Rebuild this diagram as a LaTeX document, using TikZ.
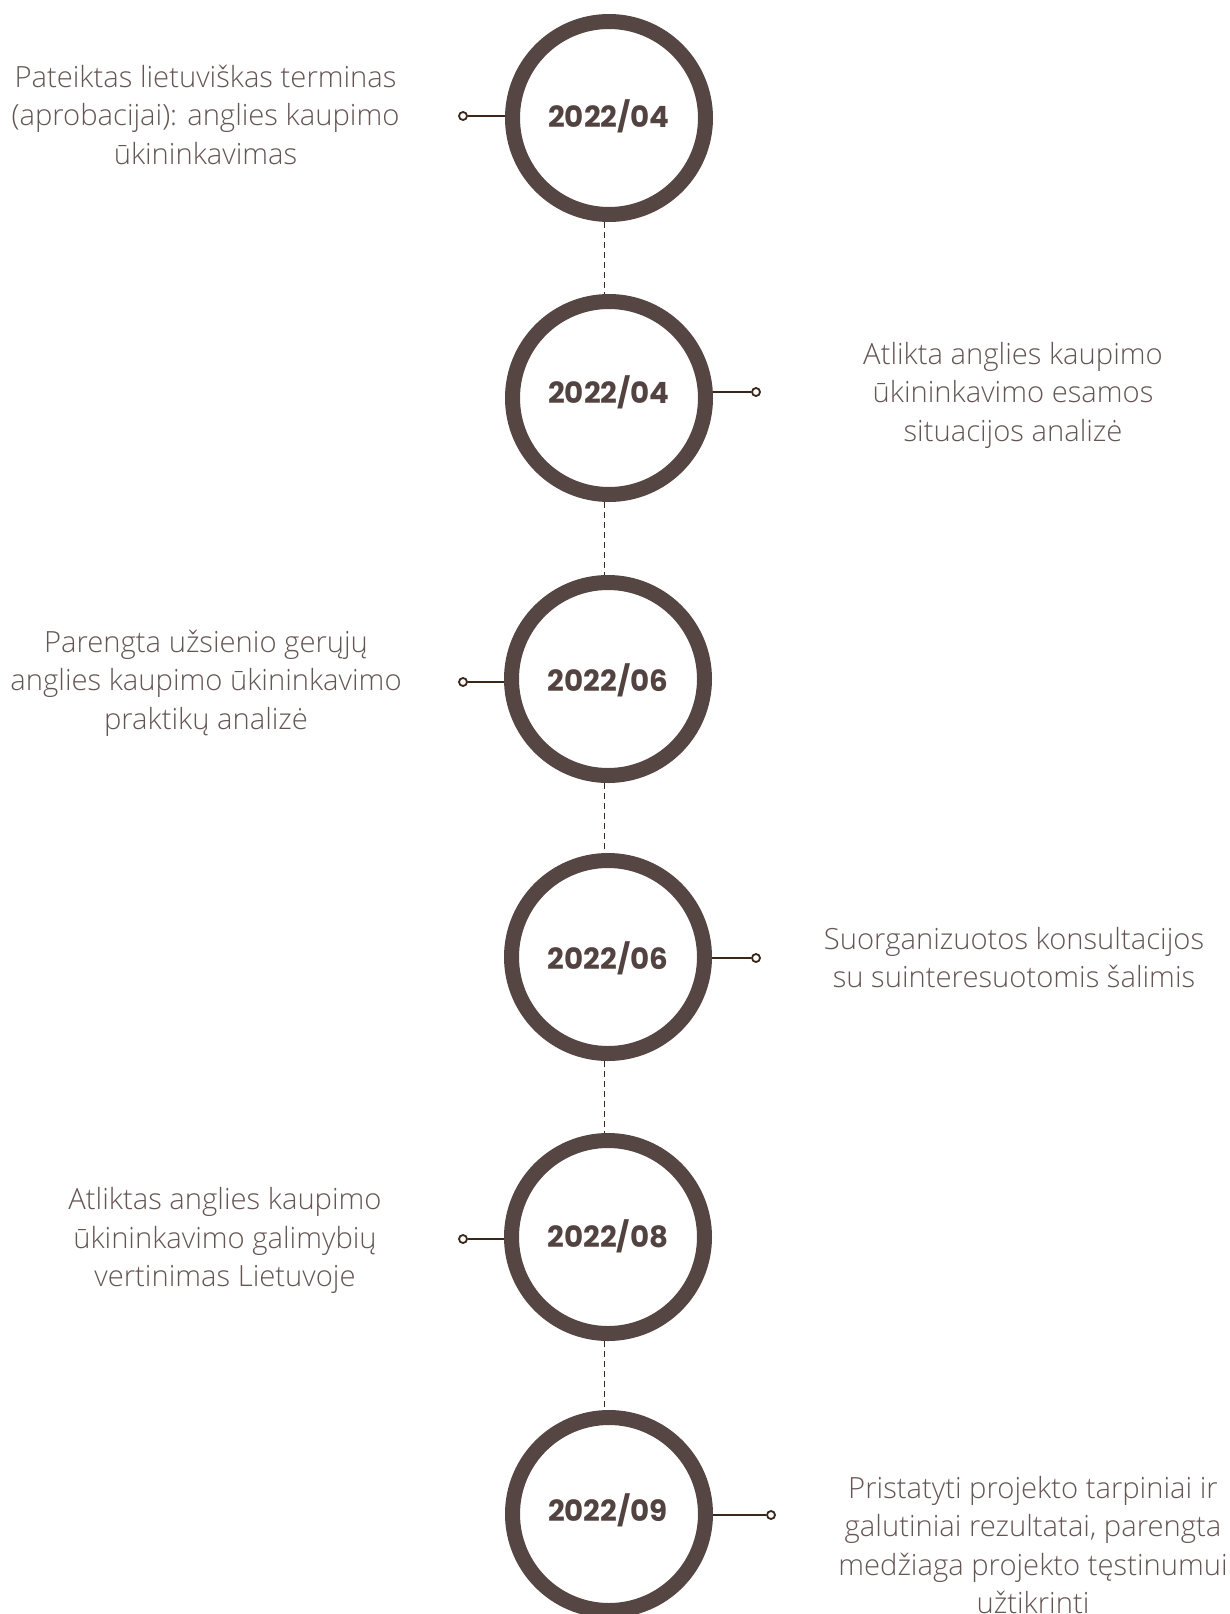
\documentclass[tikz,border=0pt]{standalone}
\usepackage{fontspec}
\setmainfont{Open Sans Light}
\newfontfamily\datefont{Poppins}
\usetikzlibrary{backgrounds}
\definecolor{ringc}{RGB}{85,69,67}
\definecolor{connc}{RGB}{58,38,26}
\definecolor{textc}{RGB}{100,86,84}
\definecolor{datec}{RGB}{82,67,65}
\tikzset{
  ring/.style={circle, draw=ringc, fill=white, line width=15pt, minimum size=193pt, inner sep=0pt},
  datelbl/.style={font=\datefont\bfseries\fontsize{29.3}{36}\selectfont, text=datec, inner sep=0pt},
  desc/.style={align=center, font=\fontsize{29.2}{38.5}\selectfont, text=textc, inner sep=0pt},
  enddot/.style={circle, draw=connc, line width=1.8pt, fill=white, minimum size=8pt, inner sep=0pt},
  conn/.style={draw=connc, line width=2pt},
  dashline/.style={draw=connc, line width=1.6pt, dash pattern=on 6pt off 4pt}
}
\begin{document}
\begin{tikzpicture}[x=1pt,y=-1pt]
\useasboundingbox (0,0) rectangle (1230,1614);
% rings
\node[ring] (c1) at (609,118) {};
\node[ring] (c2) at (609,398) {};
\node[ring] (c3) at (608,679) {};
\node[ring] (c4) at (608,957) {};
\node[ring] (c5) at (608,1237) {};
\node[ring] (c6) at (609,1514) {};
% dates
\node[datelbl] (d1) at (609,116) {2022/04};
\node[datelbl] (d2) at (609,392) {2022/04};
\node[datelbl] (d3) at (608,680) {2022/06};
\node[datelbl] (d4) at (608,958) {2022/06};
\node[datelbl] (d5) at (608,1236) {2022/08};
\node[datelbl] (d6) at (608,1510) {2022/09};
% end dots
\node[enddot] (e1) at (463,116) {};
\node[enddot] (e2) at (756,392) {};
\node[enddot] (e3) at (463,682) {};
\node[enddot] (e4) at (756,958) {};
\node[enddot] (e5) at (463,1239) {};
\node[enddot] (e6) at (771,1515) {};
\begin{scope}[on background layer]
\draw[conn] (e1) -- (e1 -| c1.center);
\draw[conn] (e2) -- (e2 -| c2.center);
\draw[conn] (e3) -- (e3 -| c3.center);
\draw[conn] (e4) -- (e4 -| c4.center);
\draw[conn] (e5) -- (e5 -| c5.center);
\draw[conn] (e6) -- (e6 -| c6.center);
\draw[dashline] ([xshift=-4.5pt]c1.south) -- ([xshift=-4.5pt]c2.north);
\draw[dashline] ([xshift=-4.5pt]c2.south) -- ([xshift=-3.5pt]c3.north);
\draw[dashline] ([xshift=-3.5pt]c3.south) -- ([xshift=-3.5pt]c4.north);
\draw[dashline] ([xshift=-3.5pt]c4.south) -- ([xshift=-3.5pt]c5.north);
\draw[dashline] ([xshift=-3.5pt]c5.south) -- ([xshift=-4.5pt]c6.north);
\end{scope}
% descriptions
\node[desc] (t1) at (205.5,114.5) {Pateiktas lietuviškas terminas\\(aprobacijai): anglies kaupimo\\ūkininkavimas};
\node[desc] (t2) at (1013,395) {Atlikta anglies kaupimo\\ūkininkavimo esamos\\situacijos analizė};
\node[desc] (t3) at (206,683) {Parengta užsienio gerųjų\\anglies kaupimo ūkininkavimo\\praktikų analizė};
\node[desc] (t4) at (1014,957.5) {Suorganizuotos konsultacijos\\su suinteresuotomis šalimis};
\node[desc] (t5) at (225,1240.5) {Atliktas anglies kaupimo\\ūkininkavimo galimybių\\vertinimas Lietuvoje};
\node[desc] (t6) at (1033,1545) {Pristatyti projekto tarpiniai ir\\galutiniai rezultatai, parengta\\medžiaga projekto tęstinumui\\užtikrinti};
\end{tikzpicture}
\end{document}
